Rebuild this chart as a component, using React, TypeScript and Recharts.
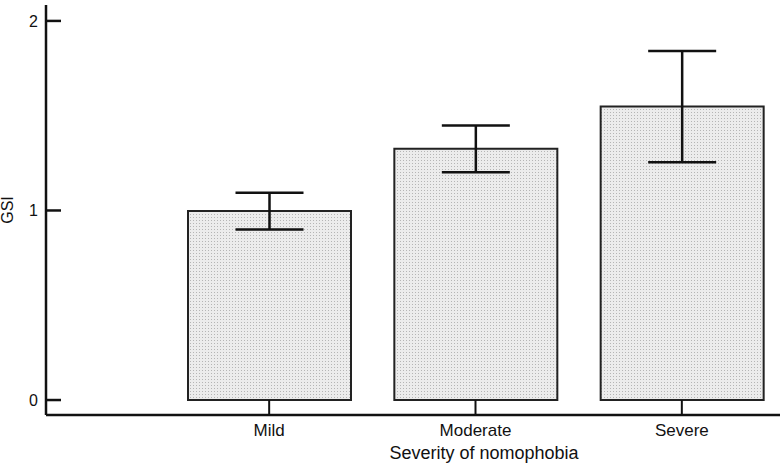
import { BarChart, Bar, XAxis, YAxis, ErrorBar, Label } from 'recharts';

const categories = ['Mild', 'Moderate', 'Severe'];
const gsiMeans = [0.997, 1.325, 1.548];
const gsiErrors = [0.097, 0.123, 0.293];
const yTicks = [0, 1, 2];

const data = categories.map((severity, i) => ({
  severity,
  gsi: gsiMeans[i],
  err: gsiErrors[i],
}));

const FONT = 'Arial, "Liberation Sans", Helvetica, sans-serif';

function YTick({ x, y, payload }: any) {
  return (
    <g>
      <line x1={x} y1={y} x2={x + 15} y2={y} stroke="#111" strokeWidth={2.5} />
      <text x={x - 8} y={y} dy={6} textAnchor="end" fontSize={16} fill="#111" fontFamily={FONT}>
        {payload.value}
      </text>
    </g>
  );
}

function XTick({ x, y, payload }: any) {
  return (
    <g>
      <line x1={x} y1={y} x2={x} y2={y - 15} stroke="#111" strokeWidth={2} />
      <text x={x} y={y + 21} textAnchor="middle" fontSize={17} fill="#111" fontFamily={FONT}>
        {payload.value}
      </text>
    </g>
  );
}

export default function App() {
  return (
    <div style={{ position: 'absolute', left: 0, top: 0, width: 780, height: 465, background: '#fff' }}>
      <BarChart width={780} height={465} data={data} margin={{ top: 5, right: 0, left: 0, bottom: 0 }}>
        <defs>
          <pattern id="stipple" width="3" height="3" patternUnits="userSpaceOnUse">
            <rect width="3" height="3" fill="#ececec" />
            <rect x="1" y="1" width="1" height="1" fill="#b5b5b5" />
          </pattern>
        </defs>
        <XAxis
          dataKey="severity"
          height={50}
          padding={{ left: 120, right: -5 }}
          axisLine={{ stroke: '#111', strokeWidth: 2.5 }}
          tickLine={false}
          tickSize={0}
          tickMargin={0}
          tick={<XTick />}
          interval={0}
        >
          <Label
            content={() => (
              <text x={484} y={459} textAnchor="middle" fontSize={18} fill="#111" fontFamily={FONT}>
                Severity of nomophobia
              </text>
            )}
          />
        </XAxis>
        <YAxis
          width={46}
          type="number"
          domain={[-0.079, 2.084]}
          allowDataOverflow
          ticks={yTicks}
          axisLine={{ stroke: '#111', strokeWidth: 2.5 }}
          tickLine={false}
          tickSize={0}
          tickMargin={0}
          tick={<YTick />}
        >
          <Label
            content={() => (
              <text
                x={13}
                y={210}
                transform="rotate(-90 13 210)"
                textAnchor="middle"
                fontSize={16}
                fill="#111"
                fontFamily={FONT}
              >
                GSI
              </text>
            )}
          />
        </YAxis>
        <Bar
          dataKey="gsi"
          barSize={163}
          fill="url(#stipple)"
          stroke="#222"
          strokeWidth={2}
          isAnimationActive={false}
        >
          <ErrorBar dataKey="err" width={34} stroke="#111" strokeWidth={2.5} isAnimationActive={false} />
        </Bar>
      </BarChart>
    </div>
  );
}
